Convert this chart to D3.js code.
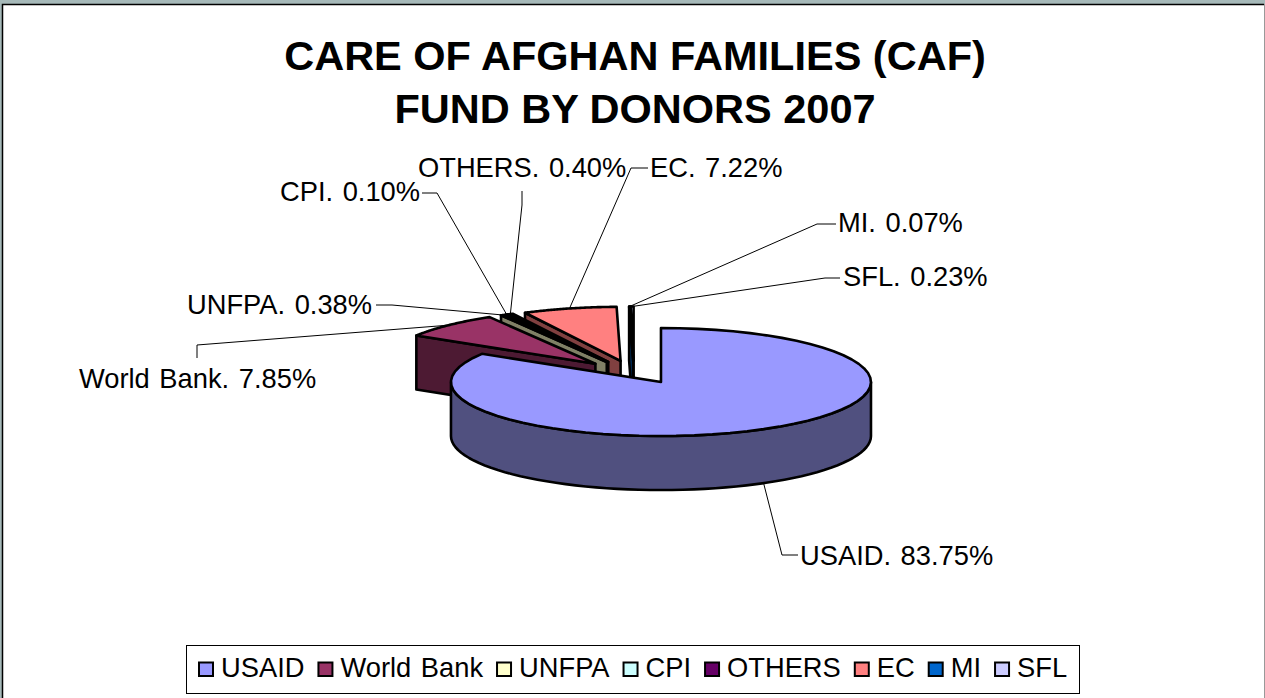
<!DOCTYPE html>
<html>
<head>
<meta charset="utf-8">
<title>CAF fund by donors 2007</title>
<script src="https://cdn.jsdelivr.net/npm/d3@7"></script>
<style>
  html, body { margin: 0; padding: 0; background: #fff; overflow: hidden; }
  svg { display: block; font-family: "Liberation Sans", Arial, sans-serif; }
</style>
</head>
<body>
<svg id="chart" width="1265" height="698"></svg>
<script>
// data
const donors = ["USAID", "World Bank", "UNFPA", "CPI", "OTHERS", "EC", "MI", "SFL"];
const shares = [83.75, 7.85, 0.38, 0.10, 0.40, 7.22, 0.07, 0.23];
const topColors = ["#9999ff", "#993366", "#ffffcc", "#ccffff", "#660066", "#ff8080", "#0066cc", "#ccccff"];
const sideColors = ["#50507f", "#4d1a33", "#808066", "#668080", "#330033", "#804040", "#003366", "#666680"];
const titleLines = ["CARE OF AFGHAN FAMILIES (CAF)", "FUND BY DONORS 2007"];

// label placement, same order as donors: text x, baseline y, then the leader elbow points
const labelPlacement = [
  { x: 800, y: 565, elbow: [[798, 555], [782, 555]] },
  { x: 79, y: 388, elbow: [[197, 358], [197, 345]] },
  { x: 187, y: 314, elbow: [[376, 305], [392, 305]] },
  { x: 280, y: 201, elbow: [[422, 193], [437, 193]] },
  { x: 418, y: 177, elbow: [[522, 191], [522, 205]] },
  { x: 650, y: 177, elbow: [[648, 168], [631, 168]] },
  { x: 838, y: 232, elbow: [[836, 224], [817, 224]] },
  { x: 843, y: 286, elbow: [[840, 278], [825, 278]] }
];

const svg = d3.select("#chart");
const width = 1265;
const height = 698;

// pie geometry
const pieCenter = { x: 634, y: 372 };
const rx = 210;
const ry = 54;
const depth = 54;
const explodeX = 55.2;
const explodeY = 11.5;
const labelSize = 27.3;

// window frame
svg.append("rect").attr("width", width).attr("height", height).attr("fill", "#a6b9b9");
svg.append("rect").attr("x", 2).attr("y", 4).attr("width", width - 3).attr("height", height)
  .attr("fill", "#fff");
svg.append("path").attr("d", `M2.5,${height}V4.5H${width - 1}`)
  .attr("fill", "none").attr("stroke", "#000").attr("stroke-width", 1.5);
svg.append("rect").attr("x", width - 1).attr("y", 4).attr("width", 1).attr("height", height)
  .attr("fill", "#999");

// title
svg.append("g").selectAll("text").data(titleLines).join("text")
  .attr("x", 635)
  .attr("y", (d, i) => 69.5 + i * 53)
  .attr("text-anchor", "middle")
  .attr("font-size", 41.5)
  .attr("font-weight", "bold")
  .text(d => d);

// slices clockwise from 12 o'clock
const pie = d3.pie().sort(null).startAngle(0).endAngle(2 * Math.PI);
const slices = pie(shares).map((s, i) => {
  const mid = (s.startAngle + s.endAngle) / 2;
  return {
    ...s,
    i,
    mid,
    cx: pieCenter.x + explodeX * Math.sin(mid),
    cy: pieCenter.y - explodeY * Math.cos(mid)
  };
});

const rimPoint = (s, a, drop = 0) => [
  s.cx + rx * Math.sin(a),
  s.cy - ry * Math.cos(a) + drop
];
const rimArc = (s, a0, a1, drop = 0) =>
  d3.range(0, 61).map(k => rimPoint(s, a0 + (a1 - a0) * k / 60, drop));

const line = d3.line();
const pieGroup = svg.append("g")
  .attr("stroke", "#000")
  .attr("stroke-width", 2.6)
  .attr("stroke-linejoin", "round");

// painter's order: back slices first, USAID last
const drawOrder = slices.slice(1).reverse().concat(slices[0]);

drawOrder.forEach(s => {
  const apex = [s.cx, s.cy];
  if (s.startAngle > 1.5 * Math.PI) {
    // cut face on the start edge is what shows on the back slices
    const edge = rimPoint(s, s.startAngle);
    pieGroup.append("path")
      .attr("d", line([apex, edge, [edge[0], edge[1] + depth], [apex[0], apex[1] + depth]]) + "Z")
      .attr("fill", sideColors[s.i]);
  } else {
    // outer wall, front half only
    const a0 = Math.max(s.startAngle, Math.PI / 2);
    const a1 = Math.min(s.endAngle, 1.5 * Math.PI);
    pieGroup.append("path")
      .attr("d", line(rimArc(s, a0, a1).concat(rimArc(s, a1, a0, depth))) + "Z")
      .attr("fill", sideColors[s.i]);
  }
  pieGroup.append("path")
    .attr("d", line([apex].concat(rimArc(s, s.startAngle, s.endAngle))) + "Z")
    .attr("fill", topColors[s.i]);
});

// leaders and labels
const pct = d3.format(".2f");
const labels = svg.append("g");
slices.forEach(s => {
  const place = labelPlacement[s.i];
  const front = Math.cos(s.mid) < 0;
  const pts = place.elbow.concat([rimPoint(s, s.mid, front ? depth : 0)]);
  labels.append("path")
    .attr("d", line(pts))
    .attr("fill", "none")
    .attr("stroke", "#000")
    .attr("stroke-width", 1);
  labels.append("text")
    .attr("x", place.x)
    .attr("y", place.y)
    .attr("font-size", labelSize)
    .attr("word-spacing", 2)
    .text(`${donors[s.i]}. ${pct(s.data)}%`);
});

// legend
const legendBox = { x: 186, y: 645, w: 893, h: 48 };
const legend = svg.append("g");
legend.append("rect")
  .attr("x", legendBox.x + 0.5).attr("y", legendBox.y + 0.5)
  .attr("width", legendBox.w).attr("height", legendBox.h)
  .attr("fill", "#fff").attr("stroke", "#000");

const measure = svg.append("text").attr("font-size", labelSize).attr("word-spacing", 2);
let legendX = legendBox.x + 13;
donors.forEach((name, i) => {
  measure.text(name);
  const w = measure.node().getComputedTextLength();
  legend.append("rect")
    .attr("x", legendX).attr("y", legendBox.y + 17.5)
    .attr("width", 14).attr("height", 13.5)
    .attr("fill", topColors[i])
    .attr("stroke", "#000").attr("stroke-width", 2);
  legend.append("text")
    .attr("x", legendX + 22).attr("y", legendBox.y + 31.5)
    .attr("font-size", labelSize)
    .attr("word-spacing", 2)
    .text(name);
  legendX += 22 + w + 14;
});
measure.remove();
</script>
</body>
</html>
